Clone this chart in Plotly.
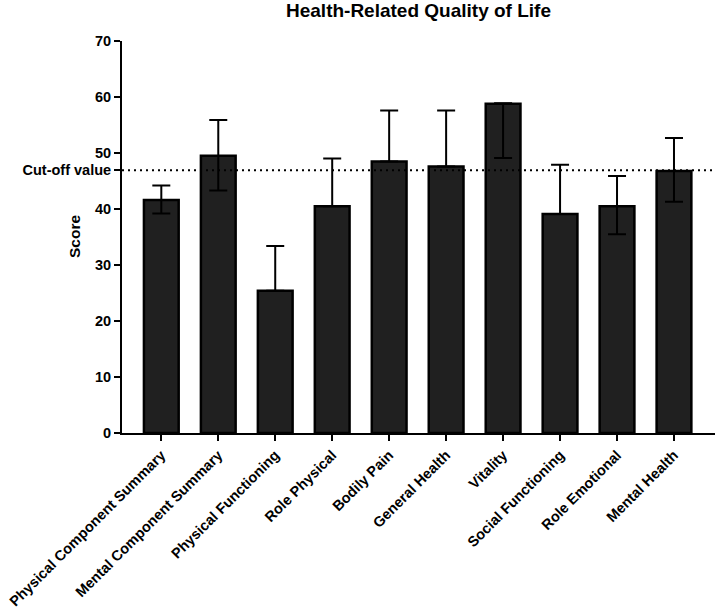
import plotly.graph_objects as go

categories = ["Physical Component Summary", "Mental Component Summary", "Physical Functioning",
              "Role Physical", "Bodily Pain", "General Health", "Vitality",
              "Social Functioning", "Role Emotional", "Mental Health"]
means = [41.6, 49.5, 25.4, 40.5, 48.5, 47.6, 58.8, 39.1, 40.5, 46.8]
upper = [44.2, 55.9, 33.4, 49.0, 57.6, 57.6, 58.9, 47.9, 45.9, 52.7]
lower = [39.2, 43.3, 25.4, 40.5, 48.5, 47.6, 49.1, 39.1, 35.5, 41.3]
cutoff = 46.9
y_ticks = [0, 10, 20, 30, 40, 50, 60, 70]

err_plus = [u - m for u, m in zip(upper, means)]
err_minus = [m - l for m, l in zip(means, lower)]

FONT = "Liberation Sans, Arial, sans-serif"

fig = go.Figure()
fig.add_trace(go.Bar(
    x=list(range(len(categories))), y=means, width=0.61,
    marker=dict(color="#202020", line=dict(color="black", width=2.5)),
    error_y=dict(type="data", symmetric=False, array=err_plus, arrayminus=err_minus,
                 color="black", thickness=2, width=9),
    showlegend=False,
))

fig.add_shape(type="line", xref="paper", x0=0, x1=1, yref="y", y0=cutoff, y1=cutoff,
              line=dict(color="black", width=2, dash="2px,4px"))

tickvals = y_ticks + [cutoff]
ticktext = [str(v) for v in y_ticks] + ["Cut-off value"]

fig.update_layout(
    width=716, height=615,
    margin=dict(l=122, r=1, t=41, b=182),
    plot_bgcolor="white", paper_bgcolor="white",
    font=dict(family=FONT, color="black"),
    xaxis=dict(range=[-0.69, 9.72], tickvals=list(range(len(categories))), ticktext=categories,
               tickangle=-45, showline=True, linecolor="black", linewidth=2,
               ticks="outside", ticklen=6, tickwidth=2, tickcolor="black",
               showgrid=False, zeroline=False,
               tickfont=dict(family=FONT, size=14.5, weight="bold", color="black")),
    yaxis=dict(range=[0, 70], tickvals=tickvals, ticktext=ticktext,
               showline=True, linecolor="black", linewidth=2,
               ticks="outside", ticklen=6, tickwidth=2, tickcolor="black",
               showgrid=False, zeroline=False,
               tickfont=dict(family=FONT, size=14.5, weight="bold", color="black")),
    annotations=[
        dict(text="<b>Health-Related Quality of Life</b>", xref="paper", yref="paper",
             x=0.5, y=1, yshift=31, showarrow=False, yanchor="middle",
             font=dict(family=FONT, size=19, color="black")),
        dict(text="<b>Score</b>", xref="paper", yref="paper", x=0, xshift=-48,
             y=0.5, showarrow=False, textangle=-90,
             xanchor="center", yanchor="middle",
             font=dict(family=FONT, size=15.5, color="black")),
    ],
)

fig.write_html("out.html", config={"displayModeBar": False},
               post_script="document.body.style.margin='0';")
